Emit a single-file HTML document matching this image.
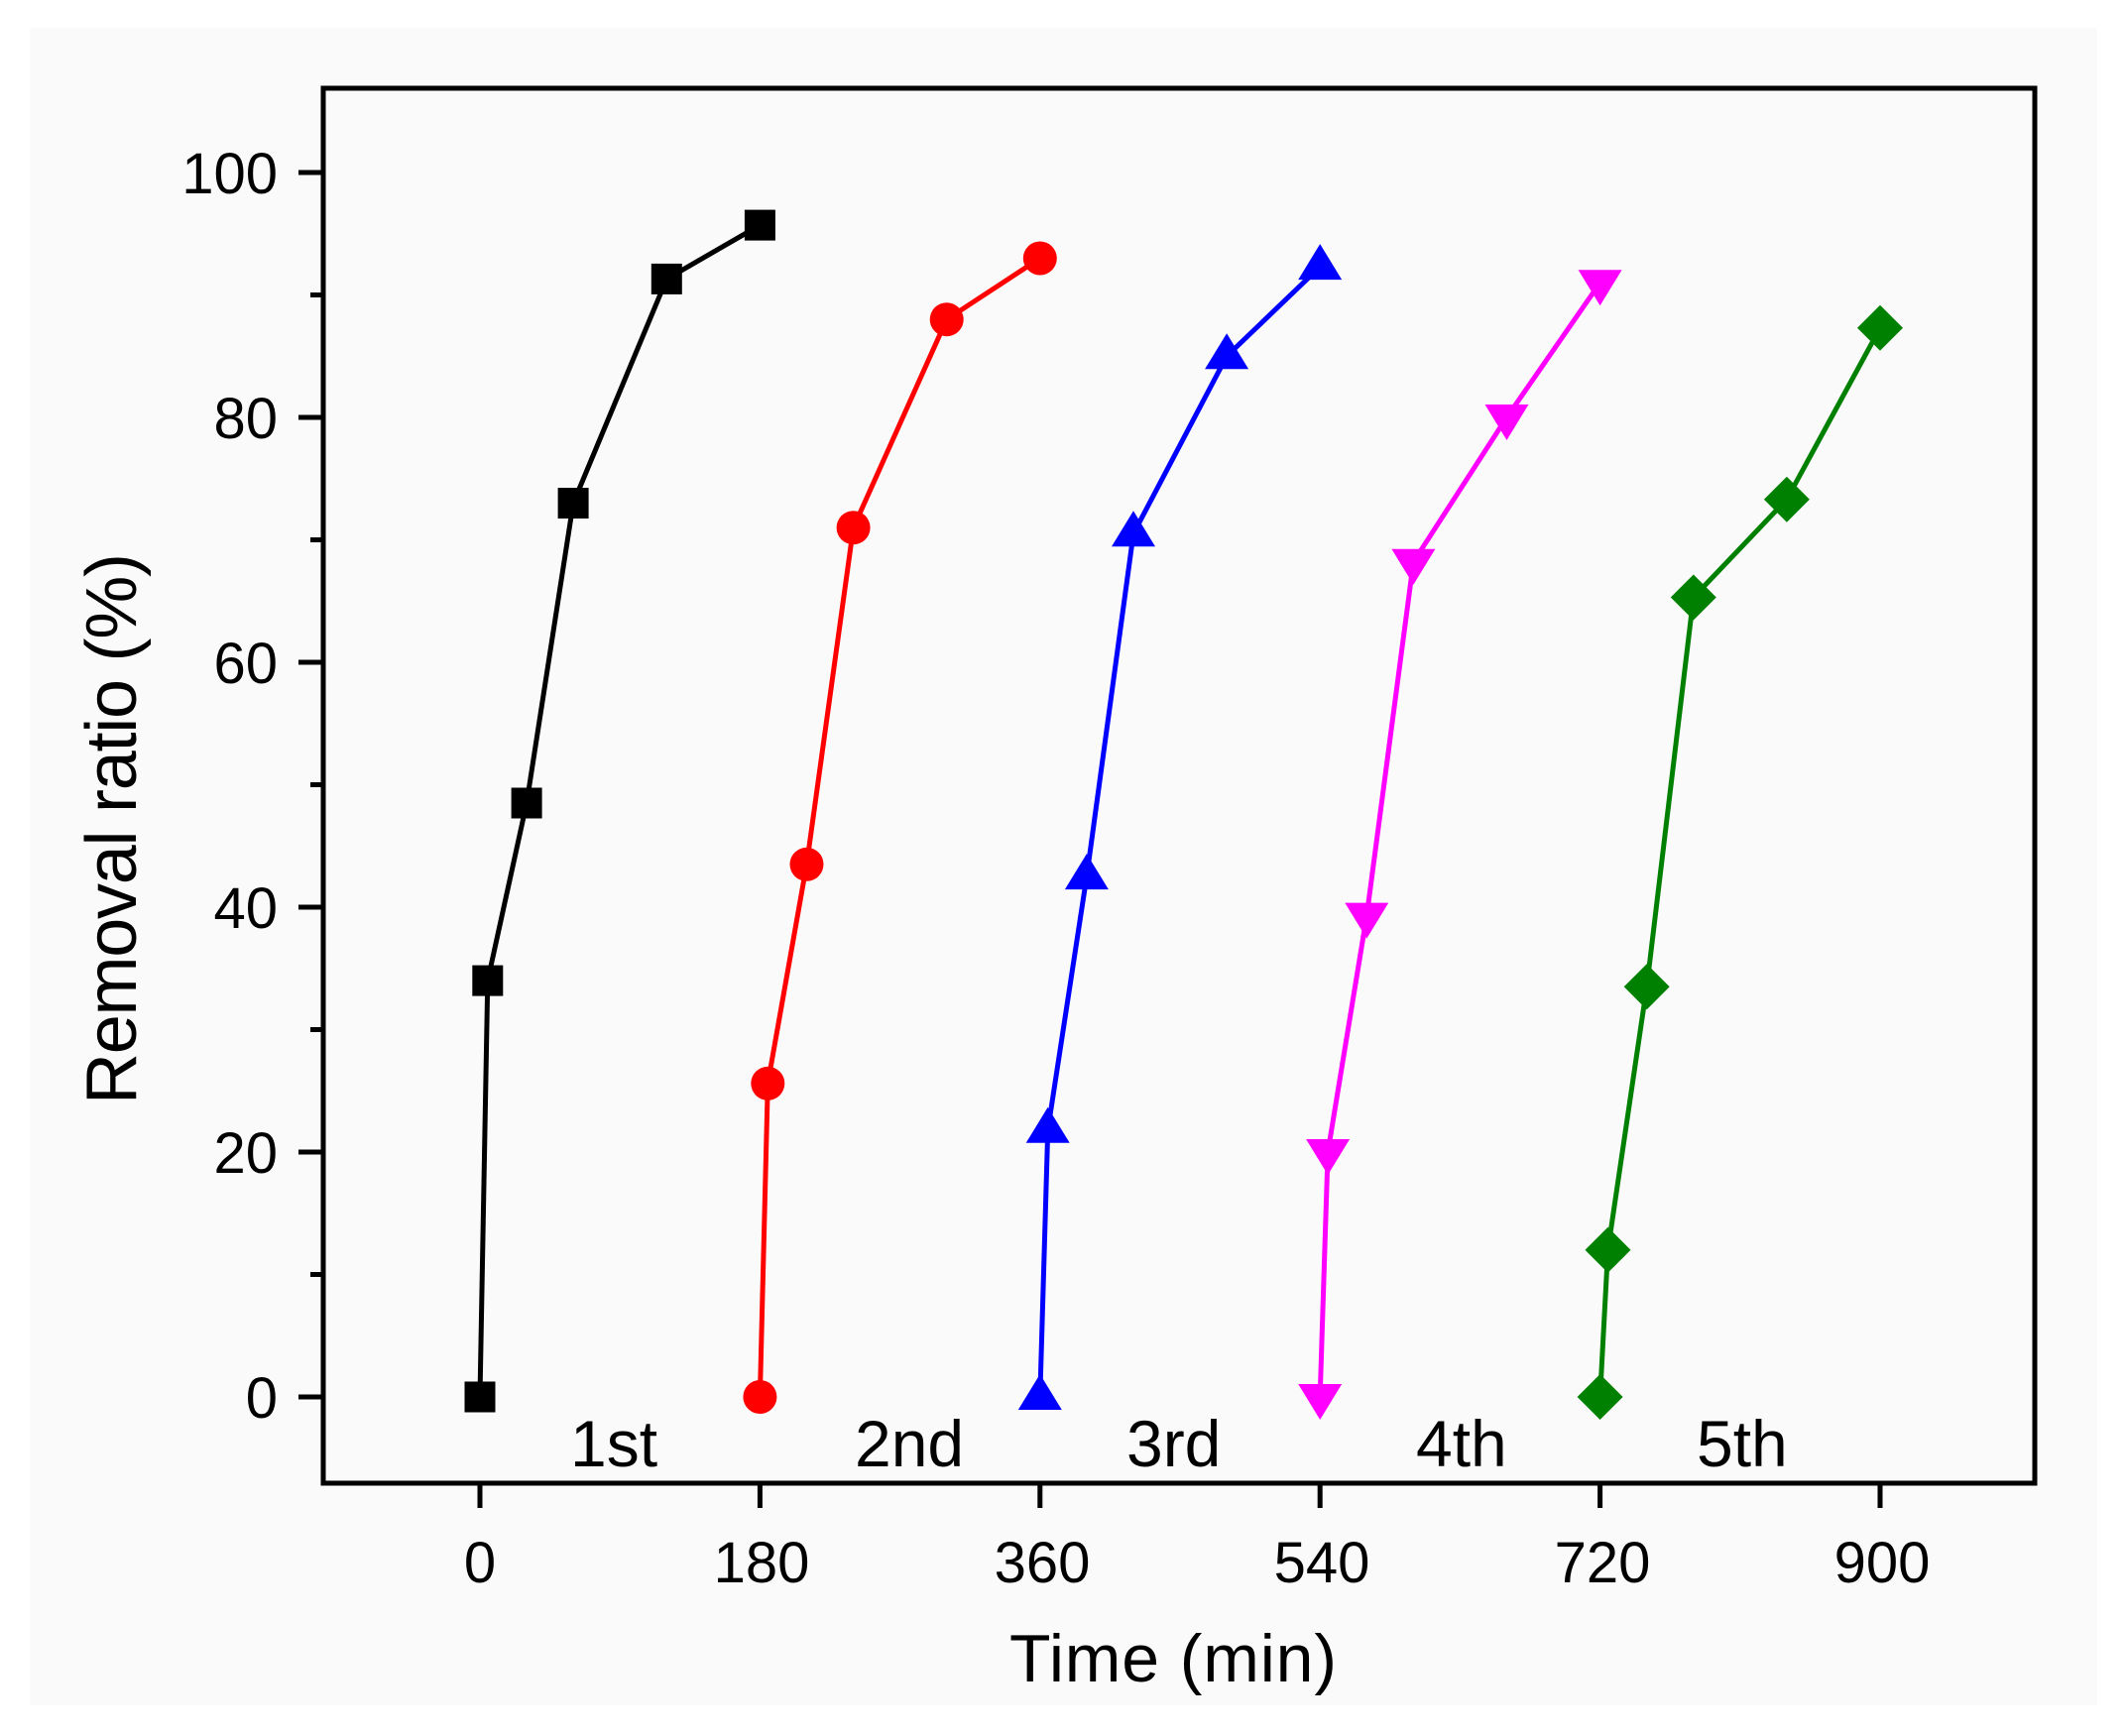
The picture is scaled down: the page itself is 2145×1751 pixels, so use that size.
<!DOCTYPE html>
<html><head><meta charset="utf-8"><style>
html,body{margin:0;padding:0;background:#fff;}
svg{display:block;}
text{font-family:"Liberation Sans",Arial,sans-serif;fill:#000;}
</style></head><body>
<svg width="2145" height="1751" viewBox="0 0 2145 1751" xmlns="http://www.w3.org/2000/svg">
<rect x="0" y="0" width="2145" height="1751" fill="#fff"/>
<rect x="30" y="28" width="2085" height="1692" fill="#fbfafa"/>
<rect x="326" y="89" width="1726" height="1407" fill="none" stroke="#000" stroke-width="5"/>
<g stroke="#000" stroke-width="5">
<line x1="301" y1="1409" x2="326" y2="1409"/>
<line x1="301" y1="1162" x2="326" y2="1162"/>
<line x1="301" y1="915" x2="326" y2="915"/>
<line x1="301" y1="668" x2="326" y2="668"/>
<line x1="301" y1="421" x2="326" y2="421"/>
<line x1="301" y1="174" x2="326" y2="174"/>
<line x1="313" y1="1285.5" x2="326" y2="1285.5"/>
<line x1="313" y1="1038.5" x2="326" y2="1038.5"/>
<line x1="313" y1="791.5" x2="326" y2="791.5"/>
<line x1="313" y1="544.5" x2="326" y2="544.5"/>
<line x1="313" y1="297.5" x2="326" y2="297.5"/>
<line x1="484" y1="1496" x2="484" y2="1521"/>
<line x1="766.4" y1="1496" x2="766.4" y2="1521"/>
<line x1="1048.8" y1="1496" x2="1048.8" y2="1521"/>
<line x1="1331.2" y1="1496" x2="1331.2" y2="1521"/>
<line x1="1613.6" y1="1496" x2="1613.6" y2="1521"/>
<line x1="1896" y1="1496" x2="1896" y2="1521"/>
</g>
<g font-size="58" text-anchor="end">
<text x="280" y="1430">0</text>
<text x="280" y="1183">20</text>
<text x="280" y="936">40</text>
<text x="280" y="689">60</text>
<text x="280" y="442">80</text>
<text x="280" y="195">100</text>
</g>
<g font-size="58" text-anchor="middle">
<text x="484" y="1596">0</text>
<text x="768" y="1596">180</text>
<text x="1051" y="1596">360</text>
<text x="1333" y="1596">540</text>
<text x="1616" y="1596">720</text>
<text x="1898" y="1596">900</text>
</g>
<text x="1018" y="1696" font-size="68" textLength="330">Time (min)</text>
<text transform="translate(137,1114) rotate(-90)" font-size="72" textLength="556">Removal ratio (%)</text>
<g font-size="66">
<text x="575" y="1479">1st</text>
<text x="862" y="1479">2nd</text>
<text x="1136" y="1479">3rd</text>
<text x="1428" y="1479">4th</text>
<text x="1711" y="1479">5th</text>
</g>
<g fill="none" stroke-width="5" stroke-linejoin="round">
<polyline stroke="#000" points="484,1409 491.8,989.1 531.1,810 578.1,507.5 672.3,281.4 766.4,227.1"/>
<polyline stroke="#f00" points="766.4,1409 774.3,1092.8 813.5,871.8 860.6,532.2 954.7,322.2 1048.8,260.5"/>
<polyline stroke="#00f" points="1048.8,1409 1056.7,1139.8 1095.9,884.1 1143,538.3 1237.1,359.3 1331.2,269.1"/>
<polyline stroke="#f0f" points="1331.2,1409 1339.1,1162 1378.3,923.6 1425.4,566.7 1519.5,421 1613.6,285.2"/>
<polyline stroke="#008000" points="1613.6,1409 1621.5,1260.8 1660.7,995.3 1707.8,602.5 1801.9,503.7 1896,330.8"/>
</g>
<g fill="#000">
<rect x="468.5" y="1393.5" width="31" height="31"/>
<rect x="476.3" y="973.6" width="31" height="31"/>
<rect x="515.6" y="794.5" width="31" height="31"/>
<rect x="562.6" y="492" width="31" height="31"/>
<rect x="656.8" y="265.9" width="31" height="31"/>
<rect x="750.9" y="211.6" width="31" height="31"/>
</g>
<g fill="#f00">
<circle cx="766.4" cy="1409" r="17"/>
<circle cx="774.3" cy="1092.8" r="17"/>
<circle cx="813.5" cy="871.8" r="17"/>
<circle cx="860.6" cy="532.2" r="17"/>
<circle cx="954.7" cy="322.2" r="17"/>
<circle cx="1048.8" cy="260.5" r="17"/>
</g>
<g fill="#00f">
<polygon points="1048.8,1386 1070.8,1422 1026.8,1422"/>
<polygon points="1056.7,1116.8 1078.7,1152.8 1034.7,1152.8"/>
<polygon points="1095.9,861.1 1117.9,897.1 1073.9,897.1"/>
<polygon points="1143,515.3 1165,551.3 1121,551.3"/>
<polygon points="1237.1,336.3 1259.1,372.3 1215.1,372.3"/>
<polygon points="1331.2,246.1 1353.2,282.1 1309.2,282.1"/>
</g>
<g fill="#f0f">
<polygon points="1331.2,1432 1353.2,1396 1309.2,1396"/>
<polygon points="1339.1,1185 1361.1,1149 1317.1,1149"/>
<polygon points="1378.3,946.6 1400.3,910.6 1356.3,910.6"/>
<polygon points="1425.4,589.7 1447.4,553.7 1403.4,553.7"/>
<polygon points="1519.5,444 1541.5,408 1497.5,408"/>
<polygon points="1613.6,308.2 1635.6,272.2 1591.6,272.2"/>
</g>
<g fill="#008000">
<polygon points="1613.6,1386 1636.6,1409 1613.6,1432 1590.6,1409"/>
<polygon points="1621.5,1237.8 1644.5,1260.8 1621.5,1283.8 1598.5,1260.8"/>
<polygon points="1660.7,972.3 1683.7,995.3 1660.7,1018.3 1637.7,995.3"/>
<polygon points="1707.8,579.5 1730.8,602.5 1707.8,625.5 1684.8,602.5"/>
<polygon points="1801.9,480.7 1824.9,503.7 1801.9,526.7 1778.9,503.7"/>
<polygon points="1896,307.8 1919,330.8 1896,353.8 1873,330.8"/>
</g>
</svg>
</body></html>
